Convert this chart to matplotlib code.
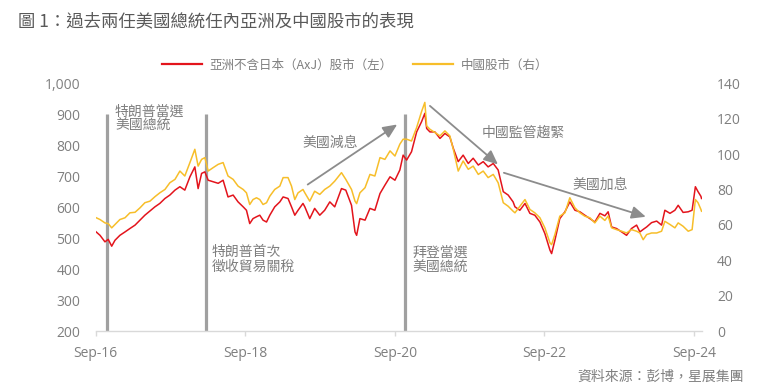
import matplotlib
matplotlib.use('Agg')
import matplotlib.pyplot as plt
import matplotlib.dates as mdates
import matplotlib.ticker as mticker
import pandas as pd

plt.rcParams['font.family'] = ['Noto Sans CJK TC', 'DejaVu Sans']

# values
dates = ['2016-09-12', '2016-10-06', '2016-10-30', '2016-11-15', '2016-12-02', '2016-12-18',
         '2017-01-11', '2017-02-05', '2017-03-01', '2017-03-26', '2017-04-19', '2017-05-13',
         '2017-06-07', '2017-07-01', '2017-07-25', '2017-08-19', '2017-09-12', '2017-10-07',
         '2017-10-31', '2017-11-24', '2017-12-19', '2018-01-12', '2018-01-28', '2018-02-14',
         '2018-03-02', '2018-03-18', '2018-04-11', '2018-05-06', '2018-05-30', '2018-06-23',
         '2018-07-18', '2018-08-11', '2018-09-05', '2018-09-21', '2018-10-07', '2018-10-23',
         '2018-11-09', '2018-11-25', '2018-12-11', '2018-12-28', '2019-01-13', '2019-02-06',
         '2019-03-03', '2019-03-19', '2019-04-12', '2019-04-29', '2019-05-15', '2019-05-31',
         '2019-06-24', '2019-07-03', '2019-07-27', '2019-08-20', '2019-09-14', '2019-10-08',
         '2019-11-02', '2019-11-26', '2019-12-29', '2020-01-19', '2020-02-16', '2020-03-04',
         '2020-03-12', '2020-03-28', '2020-04-22', '2020-05-16', '2020-06-09', '2020-07-04',
         '2020-07-28', '2020-08-22', '2020-09-15', '2020-10-09', '2020-10-25', '2020-11-11',
         '2020-12-05', '2020-12-30', '2021-01-23', '2021-02-08', '2021-02-17', '2021-03-05',
         '2021-03-29', '2021-04-23', '2021-05-17', '2021-06-10', '2021-06-27', '2021-07-21',
         '2021-08-14', '2021-09-08', '2021-10-02', '2021-10-27', '2021-11-20', '2021-12-14',
         '2022-01-08', '2022-02-01', '2022-02-26', '2022-03-22', '2022-04-15', '2022-04-24',
         '2022-05-18', '2022-06-12', '2022-07-06', '2022-07-30', '2022-08-24', '2022-09-17',
         '2022-10-12', '2022-10-20', '2022-11-05', '2022-11-29', '2022-12-24', '2023-01-17',
         '2023-02-11', '2023-03-07', '2023-03-31', '2023-04-25', '2023-05-19', '2023-06-13',
         '2023-07-07', '2023-07-23', '2023-08-09', '2023-09-02', '2023-09-27', '2023-10-21',
         '2023-11-14', '2023-12-09', '2023-12-25', '2024-01-10', '2024-01-27', '2024-02-20',
         '2024-03-16', '2024-04-09', '2024-04-25', '2024-05-20', '2024-06-13', '2024-06-29',
         '2024-07-23', '2024-08-17', '2024-09-05', '2024-09-21', '2024-10-04', '2024-10-18',
         '2024-10-21']

axj = [523, 509, 488, 496, 474, 493, 509, 520, 531, 542, 558, 574,
       588, 601, 612, 628, 639, 655, 666, 655, 698, 730, 660, 709,
       714, 687, 682, 677, 687, 633, 639, 617, 601, 590, 547, 563,
       569, 574, 558, 552, 574, 601, 617, 633, 628, 601, 574, 590,
       612, 601, 563, 596, 574, 590, 617, 601, 660, 655, 606, 520,
       509, 563, 558, 596, 590, 644, 671, 698, 687, 720, 768, 752,
       779, 843, 876, 903, 854, 843, 843, 822, 838, 827, 790, 747,
       768, 741, 758, 736, 747, 730, 741, 720, 650, 639, 617, 601,
       590, 612, 580, 574, 552, 515, 461, 450, 493, 563, 585, 617,
       590, 585, 574, 563, 552, 580, 572, 585, 536, 531, 520, 509,
       531, 542, 520, 528, 536, 550, 555, 542, 590, 580, 590, 606,
       583, 585, 590, 666, 650, 635, 628]

china = [64.3, 63.0, 61.1, 60.7, 58.3, 60.2, 63.0, 64.0, 66.8, 67.1, 69.6, 72.5,
         73.4, 75.9, 78.1, 80.0, 83.8, 85.7, 90.4, 87.6, 95.2, 102.7, 93.2, 97.0,
         98.0, 90.4, 92.3, 94.2, 95.2, 87.6, 85.7, 81.9, 80.0, 78.1, 71.5, 74.3,
         75.3, 74.3, 71.5, 72.5, 76.2, 80.0, 81.9, 86.7, 86.7, 81.9, 74.3, 78.1,
         80.0, 78.1, 73.4, 79.0, 77.2, 80.0, 81.9, 84.7, 89.5, 85.7, 80.0, 73.4,
         72.0, 78.1, 81.0, 88.5, 87.6, 98.0, 97.0, 101.8, 98.9, 105.6, 108.4, 108.4,
         107.4, 115.0, 124.0, 129.2, 115.9, 114.0, 112.2, 110.3, 113.1, 110.3, 102.7, 90.4,
         96.1, 91.4, 93.2, 88.5, 90.4, 86.7, 88.5, 83.8, 72.5, 70.5, 67.7, 66.8,
         70.5, 74.3, 68.7, 66.8, 64.0, 58.3, 49.8, 48.8, 54.5, 64.9, 66.8, 75.3,
         69.6, 66.8, 64.9, 64.0, 61.1, 64.9, 62.5, 65.0, 58.3, 57.3, 56.4, 55.4,
         57.3, 56.4, 55.4, 51.6, 54.5, 55.4, 55.4, 56.4, 62.0, 60.2, 58.3, 61.1,
         59.2, 56.4, 57.3, 74.3, 72.5, 68.7, 67.7]

tick_dates = ['2016-09-15', '2018-09-15', '2020-09-15', '2022-09-15', '2024-09-15']
event_dates = ['2016-11-08', '2018-03-08', '2020-11-03']

RED = '#E3141C'
YELLOW = '#F7BE2A'
GREY_TXT = '#7F7F7F'
GREY_LINE = '#A0A0A0'
ARROW = '#8C8C8C'
AXIS = '#D9D9D9'

x = pd.to_datetime(dates)

fig = plt.figure(figsize=(7.67, 3.92), dpi=100)
ax = fig.add_axes([0.1248, 0.1556, 0.7901, 0.6319])
ax2 = ax.twinx()

ax.plot(x, axj, color=RED, lw=1.1, zorder=3)
ax2.plot(x, china, color=YELLOW, lw=1.1, zorder=3)

ax.vlines(pd.to_datetime(event_dates), 200, 900, color=GREY_LINE, lw=2.3, zorder=2)

ax.set_xlim(pd.Timestamp('2016-09-15'), pd.Timestamp('2024-10-22'))
ax.set_ylim(200, 1000)
ax2.set_ylim(0, 140)

ax.set_yticks(range(200, 1001, 100))
ax.yaxis.set_major_formatter(mticker.FuncFormatter(lambda v, p: '{:,.0f}'.format(v)))
ax2.set_yticks(range(0, 141, 20))
ax.set_xticks(pd.to_datetime(tick_dates))
ax.xaxis.set_major_formatter(mdates.DateFormatter('%b-%y'))

for a in (ax, ax2):
    for s in a.spines.values():
        s.set_visible(False)
ax.spines['bottom'].set_visible(True)
ax.spines['bottom'].set_color(AXIS)
ax.spines['bottom'].set_linewidth(1.0)

ax.tick_params(axis='y', length=0, pad=11, labelcolor=GREY_TXT)
ax2.tick_params(axis='y', length=0, pad=11, labelcolor=GREY_TXT)
ax.tick_params(axis='x', length=3.5, width=1.0, color=AXIS, pad=7, labelcolor=GREY_TXT)
for lab in ax.get_xticklabels() + ax.get_yticklabels() + ax2.get_yticklabels():
    lab.set_fontfamily('Open Sans')
    lab.set_fontsize(10)

# annotations
def note(a, d, v, s):
    a.text(pd.Timestamp(d), v, s, color=GREY_TXT, fontsize=10, ha='left', va='center',
           linespacing=1.05, zorder=4)

note(ax, '2016-12-18', 885, '特朗普當選\n美國總統')
note(ax, '2018-04-04', 432, '特朗普首次\n徵收貿易關稅')
note(ax, '2020-12-09', 429, '拜登當選\n美國總統')
note(ax, '2019-06-22', 806, '美國減息')
note(ax, '2021-11-12', 842, '中國監管趨緊')
note(ax, '2023-02-01', 671, '美國加息')

arrows = [(('2019-07-17', 673), ('2020-09-26', 867)),
          (('2021-03-05', 927), ('2022-01-31', 738)),
          (('2022-03-01', 711), ('2024-01-23', 569))]
for (d0, v0), (d1, v1) in arrows:
    ax.annotate('', xy=(pd.Timestamp(d1), v1), xytext=(pd.Timestamp(d0), v0),
                arrowprops=dict(arrowstyle='-|>,head_length=0.85,head_width=0.38',
                                mutation_scale=10, color=ARROW, lw=1.3,
                                shrinkA=0, shrinkB=0), zorder=4)

# legend
h1, = ax.plot([], [], color=RED, lw=1.6)
h2, = ax.plot([], [], color=YELLOW, lw=1.6)
fig.legend([h1, h2], ['亞洲不含日本（AxJ）股市（左）', '中國股市（右）'],
           loc='center', bbox_to_anchor=(0.463, 0.834), ncol=2, frameon=False,
           fontsize=9, labelcolor=GREY_TXT, handlelength=3.2, handletextpad=0.6,
           columnspacing=1.6)

fig.text(18 / 767, 1 - 21 / 392, '圖 1：過去兩任美國總統任內亞洲及中國股市的表現',
         fontsize=12.5, color='#595959', ha='left', va='center')
fig.text(744 / 767, 1 - 377 / 392, '資料來源：彭博，星展集團',
         fontsize=10, color=GREY_TXT, ha='right', va='center')

plt.savefig('out.png', dpi=100)
